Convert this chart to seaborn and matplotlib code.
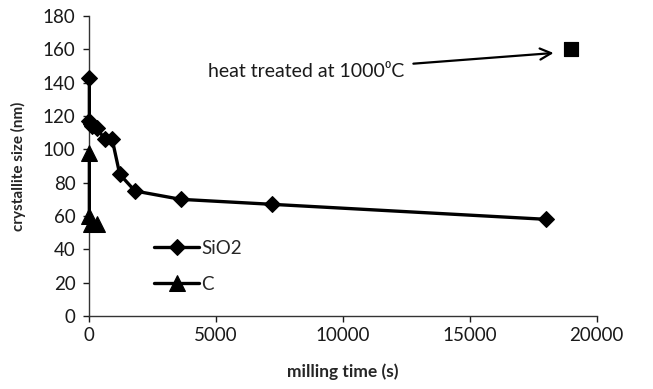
import numpy as np
import pandas as pd
import matplotlib
matplotlib.use("Agg")
import matplotlib.pyplot as plt
import seaborn as sns

# Data
sio2_time = [0, 0, 60, 120, 300, 600, 900, 1200, 1800, 3600, 7200, 18000]
sio2_size = [143, 117, 115, 114, 113, 106, 106, 85, 75, 70, 67, 58]
c_time = [0, 0, 60, 300]
c_size = [98, 60, 55, 55]
heat_time = [19000]
heat_size = [160]
x_ticks = [0, 5000, 10000, 15000, 20000]
y_ticks = [0, 20, 40, 60, 80, 100, 120, 140, 160, 180]

sns.set_style("ticks")
plt.rcParams['font.family'] = ['Lato', 'DejaVu Sans']

fig = plt.figure(figsize=(6.53, 3.89), dpi=100)
ax = fig.add_axes([0.1368, 0.1877, 0.777, 0.7712])

df_s = pd.DataFrame({"t": sio2_time, "s": sio2_size})
df_c = pd.DataFrame({"t": c_time, "s": c_size})
df_h = pd.DataFrame({"t": heat_time, "s": heat_size})

sns.lineplot(data=df_s, x="t", y="s", sort=False, estimator=None, ax=ax,
             color="black", lw=2.4, marker="D", markersize=8.5, mec="black",
             label="SiO2", clip_on=False, zorder=5)
sns.lineplot(data=df_c, x="t", y="s", sort=False, estimator=None, ax=ax,
             color="black", lw=2.4, marker="^", markersize=11, mec="black",
             label="C", clip_on=False, zorder=5)
sns.scatterplot(data=df_h, x="t", y="s", ax=ax, color="black", marker="s",
                s=110, edgecolor="black", legend=False)

ax.annotate("heat treated at 1000\u2070C", xy=(18300, 157.8), xytext=(4690, 146.5),
            fontsize=14, va="center", ha="left", color="#1a1a1a",
            arrowprops=dict(arrowstyle="->", color="black", lw=1.6,
                            mutation_scale=20, shrinkA=4, shrinkB=0))

ax.set_xlim(0, 20000)
ax.set_ylim(0, 180)
ax.set_xticks(x_ticks)
ax.set_yticks(y_ticks)
ax.tick_params(labelsize=13.5, length=4, width=1, colors="#1a1a1a")
ax.tick_params(axis="y", pad=6)
ax.tick_params(axis="x", pad=4)
ax.set_xlabel("milling time (s)", fontsize=12.5, fontweight="bold", labelpad=14)
ax.set_ylabel("crystallite size (nm)", fontsize=11, fontweight="bold", labelpad=12)
for sp in ["left", "bottom"]:
    ax.spines[sp].set_color("#333333")
    ax.spines[sp].set_linewidth(1)
sns.despine(ax=ax)

leg = ax.legend(loc="upper left", bbox_to_anchor=(0.095, 0.31), frameon=False,
                fontsize=13.5, handlelength=2.4, labelspacing=1.0,
                handletextpad=0.1)

fig.savefig("out.png", dpi=100)
